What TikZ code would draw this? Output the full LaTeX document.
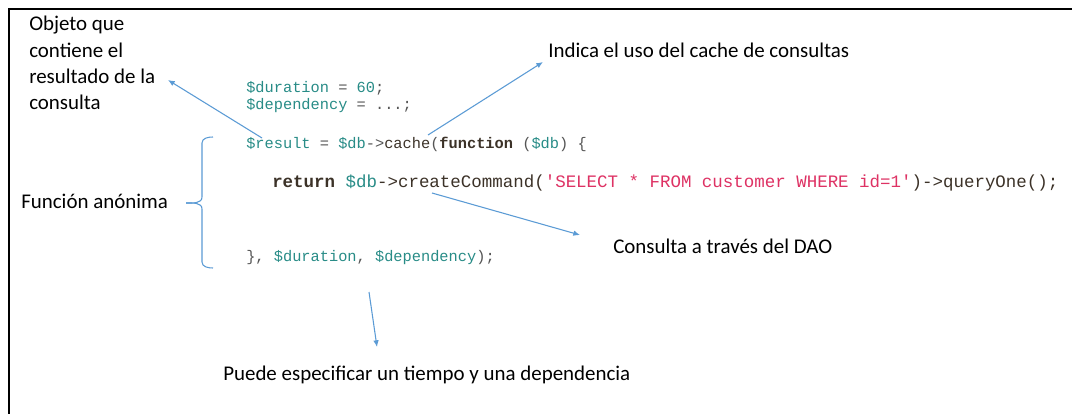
\documentclass[tikz,border=0pt]{standalone}
\usepackage{fontspec}
\setmainfont{Carlito}
\newfontfamily\codefont{Liberation Mono}
\usetikzlibrary{arrows.meta}
\definecolor{arrowblue}{RGB}{91,155,213}
\definecolor{varcol}{RGB}{40,140,135}
\definecolor{txtcol}{RGB}{85,85,85}
\definecolor{kwcol}{RGB}{60,50,40}
\definecolor{strcol}{RGB}{222,50,100}
\newcommand{\V}[1]{\textcolor{varcol}{#1}}
\newcommand{\K}[1]{\textcolor{kwcol}{\bfseries #1}}
\newcommand{\Sq}[1]{\textcolor{strcol}{#1}}
\tikzset{
  label/.style={anchor=base west, inner sep=0pt, font=\fontsize{15.7}{19.7}\selectfont, text=black},
  code/.style={anchor=base west, inner sep=0pt, font=\codefont\fontsize{11.5}{14}\selectfont, text=txtcol},
  bigcode/.style={anchor=base west, inner sep=0pt, font=\codefont\fontsize{13.1}{16}\selectfont, text=kwcol},
  pointer/.style={draw=arrowblue, line width=0.8pt, -{Latex[length=5pt,width=4.2pt]}},
  frameline/.style={draw=black, line width=1.6pt},
  bracestyle/.style={draw=arrowblue, line width=0.8pt}
}
\begin{document}
\begin{tikzpicture}[x=0.75pt,y=-0.75pt]
\useasboundingbox (0,0) rectangle (1072,414);
\fill[white] (0,0) rectangle (1072,414);
% frame (top and left only)
\draw[frameline] (1072,9.3) -- (9.3,9.3) -- (9.3,414);
% labels
\node[label, align=left, anchor=north west] (obj) at (29,16) {Objeto que\\contiene el\\resultado de la\\consulta};
\node[label] (ind) at (548,57) {Indica el uso del cache de consultas};
\node[label] (fun) at (21,208) {Función anónima};
\node[label] (dao) at (613,253) {Consulta a través del DAO};
\node[label] (pue) at (223,380) {Puede especificar un tiempo y una dependencia};
% code
\node[code] (c1) at (246,92) {\V{\$duration} = \V{60};};
\node[code] (c2) at (246,109) {\V{\$dependency} = ...;};
\node[code] (c3) at (246,148) {\V{\$result} = \V{\$db}->\textcolor{kwcol}{cache}(\K{function} (\V{\$db}) \{};
\node[bigcode] (c4) at (272,187) {\K{return} \V{\$db}->createCommand(\Sq{'SELECT * FROM customer WHERE id=1'})->queryOne();};
\node[code] (c5) at (246,261) {\}, \V{\$duration}, \V{\$dependency});};
% connector points
\coordinate (s1) at (262,138);
\coordinate (t1) at (168,80);
\coordinate (s2) at (428,135);
\coordinate (t2) at (543,62);
\coordinate (s3) at (432,193);
\coordinate (t3) at (580,235);
\coordinate (s4) at (369,292);
\coordinate (t4) at (377,347);
\draw[pointer] (s1) -- (t1);
\draw[pointer] (s2) -- (t2);
\draw[pointer] (s3) -- (t3);
\draw[pointer] (s4) -- (t4);
% brace
\coordinate (btop) at (213,137);
\coordinate (bmid) at (186,203);
\coordinate (bbot) at (213,268);
\draw[bracestyle] (btop) to[out=180,in=90] (202,143) -- (202,197) to[out=-90,in=0] (bmid);
\draw[bracestyle] (bmid) to[out=0,in=90] (202,209) -- (202,262) to[out=-90,in=180] (bbot);
\end{tikzpicture}
\end{document}
